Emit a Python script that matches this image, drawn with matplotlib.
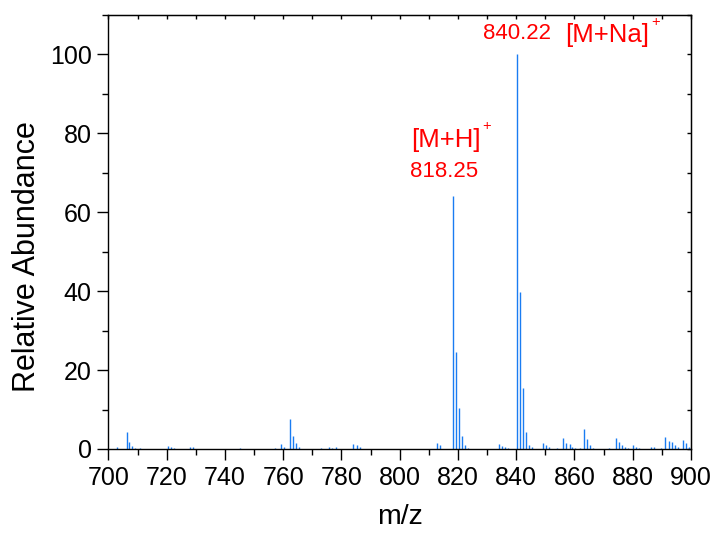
import matplotlib
matplotlib.use("Agg")
import matplotlib.pyplot as plt
from matplotlib.ticker import MultipleLocator

# ---- data ----
mz = [702.8, 706.3, 707.2, 708.2, 709.0, 711.0, 720.3, 721.4, 722.4, 728.0,
      729.1, 745.1, 757.1, 759.1, 760.3, 762.2, 763.3, 764.3, 765.4, 773.1,
      775.6, 776.8, 778.1, 784.0, 785.2, 786.3, 812.9, 813.7, 818.25, 819.3,
      820.3, 821.4, 822.4, 823.4, 834.1, 835.2, 836.2, 837.2, 840.22, 841.3,
      842.4, 843.5, 844.4, 845.5, 849.2, 850.2, 851.3, 854.0, 856.0, 857.2,
      858.3, 859.3, 860.3, 862.0, 863.1, 864.2, 865.4, 866.4, 872.0, 874.3,
      875.2, 876.4, 877.4, 878.4, 880.0, 881.2, 882.2, 886.3, 887.2, 889.7,
      891.2, 892.3, 893.4, 894.5, 895.5, 897.4, 898.4, 899.4]
intensity = [0.5, 4.4, 1.7, 0.8, 0.3, 0.3, 0.7, 0.5, 0.3, 0.5,
             0.6, 0.3, 0.2, 1.35, 0.6, 7.6, 3.2, 1.4, 0.4, 0.3,
             0.4, 0.3, 0.4, 1.2, 0.9, 0.4, 1.6, 1.0, 64.0, 24.5,
             10.5, 3.2, 0.9, 0.3, 1.2, 0.8, 0.4, 0.2, 100.0, 39.7,
             15.5, 4.2, 1.1, 0.4, 1.5, 0.9, 0.4, 0.3, 2.9, 1.5,
             1.2, 0.4, 0.2, 0.3, 5.1, 2.5, 1.1, 0.3, 0.2, 2.7,
             1.7, 1.1, 0.6, 0.3, 0.9, 0.5, 0.3, 0.6, 0.4, 0.2,
             3.0, 2.0, 1.7, 0.9, 0.5, 2.2, 1.4, 0.5]

xlabel = "m/z"
ylabel = "Relative Abundance"
xticks = [700, 720, 740, 760, 780, 800, 820, 840, 860, 880, 900]
yticks = [0, 20, 40, 60, 80, 100]

plt.rcParams['font.family'] = ['Liberation Sans', 'DejaVu Sans']

fig = plt.figure(figsize=(7.18, 5.34), dpi=100)
ax = fig.add_axes([0.151, 0.1592, 0.8114, 0.8127])

ax.vlines(mz, 0, intensity, color='#1a7cf2', linewidth=1.0)

ax.set_xlim(700, 900)
ax.set_ylim(0, 110)
ax.set_xticks(xticks)
ax.set_yticks(yticks)
ax.xaxis.set_minor_locator(MultipleLocator(10))
ax.yaxis.set_minor_locator(MultipleLocator(10))

for s in ax.spines.values():
    s.set_linewidth(1.0)
    s.set_color('black')

ax.tick_params(axis='both', which='major', direction='out', length=8, width=1.0,
               labelsize=18, pad=4, top=False, right=False)
ax.tick_params(axis='both', which='minor', direction='out', length=4, width=1.0,
               top=False, right=False)

# inward ticks on top & right
axt = ax.secondary_xaxis('top')
axt.set_xticks(list(range(700, 901, 10)))
axt.tick_params(direction='in', length=3, width=1.0, labeltop=False)
axt.set_xticklabels([])
axr = ax.secondary_yaxis('right')
axr.set_yticks(list(range(0, 111, 10)))
axr.tick_params(direction='in', length=3, width=1.0, labelright=False)
axr.set_yticklabels([])

ax.set_xlabel(xlabel, fontsize=20.5, labelpad=10)
ax.set_ylabel(ylabel, fontsize=22, labelpad=6)
ax.yaxis.label.set_y(0.443)

red = '#ff0000'
ax.text(840.22, 105.4, "840.22", color=red, fontsize=16, ha='center', va='center')
t2 = ax.text(856.9, 104.9, "[M+Na]", color=red, fontsize=18.5, ha='left', va='center')
ax.annotate("+", xy=(1, 1), xycoords=t2, xytext=(1, -4), textcoords='offset points',
            color=red, fontsize=10.5, ha='left', va='bottom')
t3 = ax.text(803.9, 78.4, "[M+H]", color=red, fontsize=18.5, ha='left', va='center')
ax.annotate("+", xy=(1, 1), xycoords=t3, xytext=(1, -4), textcoords='offset points',
            color=red, fontsize=10.5, ha='left', va='bottom')
ax.text(803.7, 70.3, "818.25", color=red, fontsize=16, ha='left', va='center')

fig.savefig("out.png", dpi=100)
